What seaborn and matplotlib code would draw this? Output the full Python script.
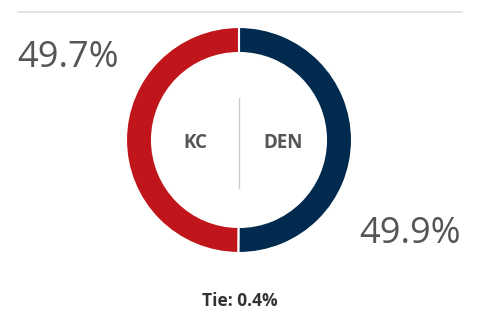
import matplotlib
matplotlib.use("Agg")
import matplotlib.pyplot as plt
import seaborn as sns
from matplotlib.lines import Line2D

teams = ["DEN", "KC"]
shares = [49.9, 49.7]
tie = 0.4
team_colors = ["#002B4E", "#C0161B"]
share_labels = ["49.9%", "49.7%"]

sns.set_theme(style="white")
plt.rcParams['font.family'] = ['Open Sans', 'DejaVu Sans']

W, H = 480, 314
fig = plt.figure(figsize=(W / 100, H / 100), dpi=100)
fig.patch.set_facecolor("white")

def fx(px):
    return px / W

def fy(py):
    return 1 - py / H

# top rule
fig.add_artist(Line2D([fx(18), fx(462)], [fy(12), fy(12)], color="#dddddd", lw=1.2))

cx, cy, r = 239, 140, 113
ax = fig.add_axes([fx(cx - r), fy(cy + r), 2 * r / W, 2 * r / H])
palette = sns.color_palette(team_colors)
ax.pie(shares, colors=palette, startangle=90, counterclock=False,
       wedgeprops=dict(width=26 / 113, edgecolor="white", linewidth=1.5))
ax.set_aspect("equal")
ax.set_xlim(-1, 1)
ax.set_ylim(-1, 1)
ax.axis("off")

# center divider
fig.add_artist(Line2D([fx(239), fx(239)], [fy(98), fy(188)], color="#cccccc", lw=1))

fig.text(fx(195), fy(143), teams[1], ha="center", va="center", fontsize=13.5,
         fontweight="bold", color="#555555")
fig.text(fx(283), fy(143), teams[0], ha="center", va="center", fontsize=13.5,
         fontweight="bold", color="#555555")

fig.text(fx(17), fy(67), share_labels[1], ha="left", va="baseline", fontsize=26,
         color="#555555")
fig.text(fx(461), fy(243), share_labels[0], ha="right", va="baseline", fontsize=26,
         color="#555555")

fig.text(fx(240), fy(306), f"Tie: {tie}%", ha="center", va="baseline", fontsize=12.5,
         fontweight="bold", color="#333333")

fig.savefig("out.png", dpi=100, facecolor="white")
